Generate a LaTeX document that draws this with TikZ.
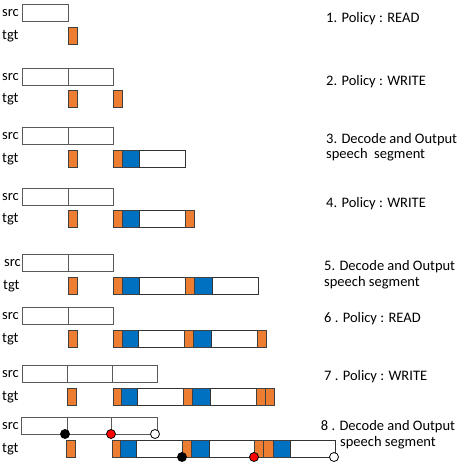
\documentclass[tikz,border=0pt]{standalone}
\usepackage{fontspec}
\setmainfont{Carlito}
\begin{document}
\begin{tikzpicture}[x=1pt,y=-1pt,
  sbox/.style={draw=black!65,line width=0.8pt,fill=white},
  ob/.style={draw=black!75,line width=0.8pt,fill={rgb,255:red,237;green,125;blue,49}},
  bb/.style={draw=black!75,line width=0.8pt,fill={rgb,255:red,0;green,112;blue,192}},
  wb/.style={draw=black!80,line width=0.8pt,fill=white},
  lab/.style={font=\fontsize{14.5}{16}\selectfont,inner sep=0pt,anchor=base west},
  stepnote/.style={font=\fontsize{14.5}{16}\selectfont,inner sep=0pt,anchor=base west,align=left},
  dotbase/.style={circle,draw=black,line width=0.8pt,minimum size=9pt,inner sep=0pt},
  dotk/.style={dotbase,fill=black},
  dotr/.style={dotbase,fill=red},
  dotw/.style={dotbase,fill=white}]
\useasboundingbox (0,0) rectangle (463,465);
\newcommand\sg[4]{\path[#1] (#2,#4) rectangle (#3,#4+17);}
% ---------- Row 1
\sg{sbox}{22}{68}{4}
\sg{ob}{68}{77}{27}
\node[lab] (s1) at (2,16.5) {src};
\node[lab] (t1) at (2,39.5) {tgt};
\node[stepnote] (p1) at (326,23) {1. Policy : READ};
% ---------- Row 2
\sg{sbox}{22}{68}{68}\sg{sbox}{68}{113}{68}
\sg{ob}{68}{77}{90}\sg{ob}{113}{122}{90}
\node[lab] (s2) at (2,80.5) {src};
\node[lab] (t2) at (2,102.5) {tgt};
\node[stepnote] (p2) at (326,86) {2. Policy : WRITE};
% ---------- Row 3
\sg{sbox}{22}{68}{127}\sg{sbox}{68}{113}{127}
\sg{ob}{68}{77}{150}
\sg{ob}{113}{122}{150}\sg{bb}{122}{139}{150}\sg{wb}{139}{185}{150}
\node[lab] (s3) at (2,139.5) {src};
\node[lab] (t3) at (2,162.5) {tgt};
\node[stepnote] (p3) at (326,159) {3. Decode and Output\\speech\ \ segment};
% ---------- Row 4
\sg{sbox}{22}{68}{188}\sg{sbox}{68}{113}{188}
\sg{ob}{68}{77}{210}
\sg{ob}{113}{122}{210}\sg{bb}{122}{139}{210}\sg{wb}{139}{185}{210}\sg{ob}{185}{194}{210}
\node[lab] (s4) at (2,200.5) {src};
\node[lab] (t4) at (2,222.5) {tgt};
\node[stepnote] (p4) at (326,207) {4. Policy : WRITE};
% ---------- Row 5
\sg{sbox}{22}{68}{254}\sg{sbox}{68}{113}{254}
\sg{ob}{68}{77}{277}
\sg{ob}{113}{122}{277}\sg{bb}{122}{139}{277}\sg{wb}{139}{185}{277}
\sg{ob}{185}{194}{277}\sg{bb}{194}{212}{277}\sg{wb}{212}{258}{277}
\node[lab] (s5) at (4,266.5) {src};
\node[lab] (t5) at (3,289.5) {tgt};
\node[stepnote] (p5) at (324,286.5) {5. Decode and Output\\speech segment};
% ---------- Row 6
\sg{sbox}{22}{68}{307}\sg{sbox}{68}{113}{307}
\sg{ob}{68}{77}{330}
\sg{ob}{113}{122}{330}\sg{bb}{122}{138}{330}\sg{wb}{138}{184}{330}
\sg{ob}{184}{193}{330}\sg{bb}{193}{211}{330}\sg{wb}{211}{257}{330}\sg{ob}{257}{266}{330}
\node[lab] (s6) at (2,319.5) {src};
\node[lab] (t6) at (2,342.5) {tgt};
\node[stepnote] (p6) at (324,322) {6 . Policy : READ};
% ---------- Row 7
\sg{sbox}{22}{67}{365}\sg{sbox}{67}{112}{365}\sg{sbox}{112}{157}{365}
\sg{ob}{67}{76}{388}
\sg{ob}{113}{121}{388}\sg{bb}{121}{137}{388}\sg{wb}{137}{183}{388}
\sg{ob}{183}{192}{388}\sg{bb}{192}{210}{388}\sg{wb}{210}{256}{388}
\sg{ob}{256}{265}{388}\sg{ob}{265}{274}{388}
\node[lab] (s7) at (2,377.5) {src};
\node[lab] (t7) at (2,400.5) {tgt};
\node[stepnote] (p7) at (324,380) {7 . Policy : WRITE};
% ---------- Row 8
\sg{sbox}{21}{67}{417}\sg{sbox}{67}{111}{417}\sg{sbox}{111}{157}{417}
\sg{ob}{66}{75}{440}
\sg{ob}{112}{120}{440}\sg{bb}{120}{136}{440}\sg{wb}{136}{182}{440}
\sg{ob}{182}{191}{440}\sg{bb}{191}{209}{440}\sg{wb}{209}{254}{440}
\sg{ob}{254}{263}{440}\sg{ob}{263}{273}{440}\sg{bb}{273}{290}{440}\sg{wb}{290}{335}{440}
\node[lab] (s8) at (2,429.5) {src};
\node[lab] (t8) at (2,452.5) {tgt};
\node[stepnote,align=center,anchor=base] (p8) at (388,446) {8 . Decode and Output\\speech segment};
\node[dotk] (a1) at (65,434) {};
\node[dotr] (a2) at (111,434) {};
\node[dotw] (a3) at (155,434) {};
\node[dotk] (b1) at (182,457) {};
\node[dotr] (b2) at (254,457) {};
\node[dotw] (b3) at (334,457) {};
\end{tikzpicture}
\end{document}
